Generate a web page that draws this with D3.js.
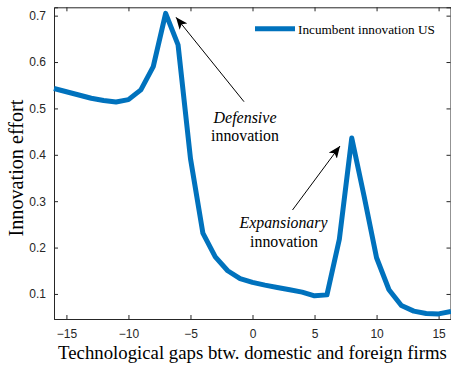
<!DOCTYPE html>
<html>
<head>
<meta charset="utf-8">
<script src="https://cdn.jsdelivr.net/npm/d3@7"></script>
<style>
  html, body { margin: 0; padding: 0; background: #fff; }
  svg { display: block; }
</style>
</head>
<body>
<svg id="chart" width="451" height="365"></svg>
<script>
// Technological gap between domestic and foreign firms
const gaps = [-16,-15,-14,-13,-12,-11,-10,-9,-8,-7,-6,-5,-4,-3,-2,-1,0,1,2,3,4,5,6,7,8,9,10,11,12,13,14,15,16];
// Incumbent innovation effort (US)
const effort = [0.543,0.536,0.529,0.522,0.517,0.514,0.519,0.540,0.590,0.705,0.637,0.392,0.231,0.180,0.150,0.133,0.125,0.119,0.114,0.109,0.104,0.096,0.098,0.218,0.436,0.310,0.178,0.109,0.075,0.063,0.058,0.057,0.062];
const xTicks = [-15,-10,-5,0,5,10,15];
const yTicks = [0.1,0.2,0.3,0.4,0.5,0.6,0.7];
const seriesName = "Incumbent innovation US";

const svg = d3.select("#chart");
const plotL = 54, plotR = 451, plotT = 7.3, plotB = 319;
const axisColor = "#262626";
const sansFont = "'Liberation Sans', Arial, sans-serif";
const serifFont = "'Liberation Serif', 'Times New Roman', serif";

const x = d3.scaleLinear().domain([-16, 16]).range([plotL, plotR]);
const y = d3.scaleLinear().domain([0.046, 0.718]).range([plotB, plotT]);

// Axes with inward ticks; tick labels on bottom and left only
const axisB = d3.axisBottom(x).tickValues(xTicks).tickSize(-4).tickPadding(10).tickFormat(d3.format("d"));
const axisL = d3.axisLeft(y).tickValues(yTicks).tickSize(-4).tickPadding(8).tickFormat(d3.format(".1f"));
const axisT = d3.axisTop(x).tickValues(xTicks).tickSize(-4).tickFormat("");
const axisR = d3.axisRight(y).tickValues(yTicks).tickSize(-4).tickFormat("");

function styleAxis(g) {
  g.select(".domain").attr("stroke", axisColor).attr("stroke-width", 1);
  g.selectAll(".tick line").attr("stroke", axisColor).attr("stroke-width", 1);
  g.selectAll(".tick text").attr("fill", axisColor).attr("font-family", sansFont).attr("font-size", 12);
}

svg.append("g").attr("transform", `translate(0,${plotB})`).call(axisB).call(styleAxis);
svg.append("g").attr("transform", `translate(${plotL},0)`).call(axisL).call(styleAxis);
svg.append("g").attr("transform", `translate(0,${plotT})`).call(axisT).call(styleAxis);
svg.append("g").attr("transform", `translate(${plotR - 0.5},0)`).call(axisR).call(styleAxis);

// Data line
const line = d3.line().x((d, i) => x(gaps[i])).y(d => y(d));
svg.append("path")
  .datum(effort)
  .attr("fill", "none")
  .attr("stroke", "#0072BD")
  .attr("stroke-width", 5)
  .attr("stroke-linejoin", "round")
  .attr("d", line);

// Scale a text's font size so that it spans the given width
function fitText(sel, width) {
  const w = sel.node().getComputedTextLength();
  const fs = parseFloat(sel.attr("font-size"));
  sel.attr("font-size", fs * width / w);
}

// Legend
svg.append("line").attr("x1", 255).attr("x2", 295).attr("y1", 28.7).attr("y2", 28.7)
  .attr("stroke", "#0072BD").attr("stroke-width", 5);
const lg = svg.append("text").attr("x", 298).attr("y", 33.5)
  .attr("font-family", serifFont).attr("font-size", 14).attr("fill", "#000")
  .text(seriesName);
fitText(lg, 137);

// Axis titles
const xt = svg.append("text").attr("x", 252.5).attr("y", 359).attr("text-anchor", "middle")
  .attr("font-family", serifFont).attr("font-size", 18).attr("fill", "#000")
  .text("Technological gaps btw. domestic and foreign firms");
fitText(xt, 389);
const yt = svg.append("text").attr("transform", "translate(23,168) rotate(-90)").attr("text-anchor", "middle")
  .attr("font-family", serifFont).attr("font-size", 18).attr("fill", "#000")
  .text("Innovation effort");
fitText(yt, 137);

// Annotations with arrows
const defs = svg.append("defs");
defs.append("marker").attr("id", "head").attr("viewBox", "0 0 12 10")
  .attr("refX", 12).attr("refY", 5).attr("markerWidth", 12).attr("markerHeight", 10)
  .attr("markerUnits", "userSpaceOnUse").attr("orient", "auto")
  .append("path").attr("d", "M0,0 L12,5 L0,10 L3,5 Z").attr("fill", "#000");

svg.append("line").attr("x1", 244).attr("y1", 101.7).attr("x2", 176).attr("y2", 17.3)
  .attr("stroke", "#000").attr("stroke-width", 1).attr("marker-end", "url(#head)");
svg.append("line").attr("x1", 292.5).attr("y1", 210).attr("x2", 340).attr("y2", 146)
  .attr("stroke", "#000").attr("stroke-width", 1).attr("marker-end", "url(#head)");

const ann = [
  {t: "Defensive", x: 245, y: 123.3, italic: true, w: 63},
  {t: "innovation", x: 245, y: 140.7, italic: false, w: 68},
  {t: "Expansionary", x: 283.5, y: 228, italic: true, w: 88},
  {t: "innovation", x: 284, y: 246.5, italic: false, w: 68}
];
svg.selectAll("text.ann").data(ann).enter().append("text").attr("class", "ann")
  .attr("x", d => d.x).attr("y", d => d.y).attr("text-anchor", "middle")
  .attr("font-family", serifFont).attr("font-size", 16)
  .attr("font-style", d => d.italic ? "italic" : "normal")
  .attr("fill", "#000").text(d => d.t)
  .each(function(d) { fitText(d3.select(this), d.w); });
</script>
</body>
</html>
